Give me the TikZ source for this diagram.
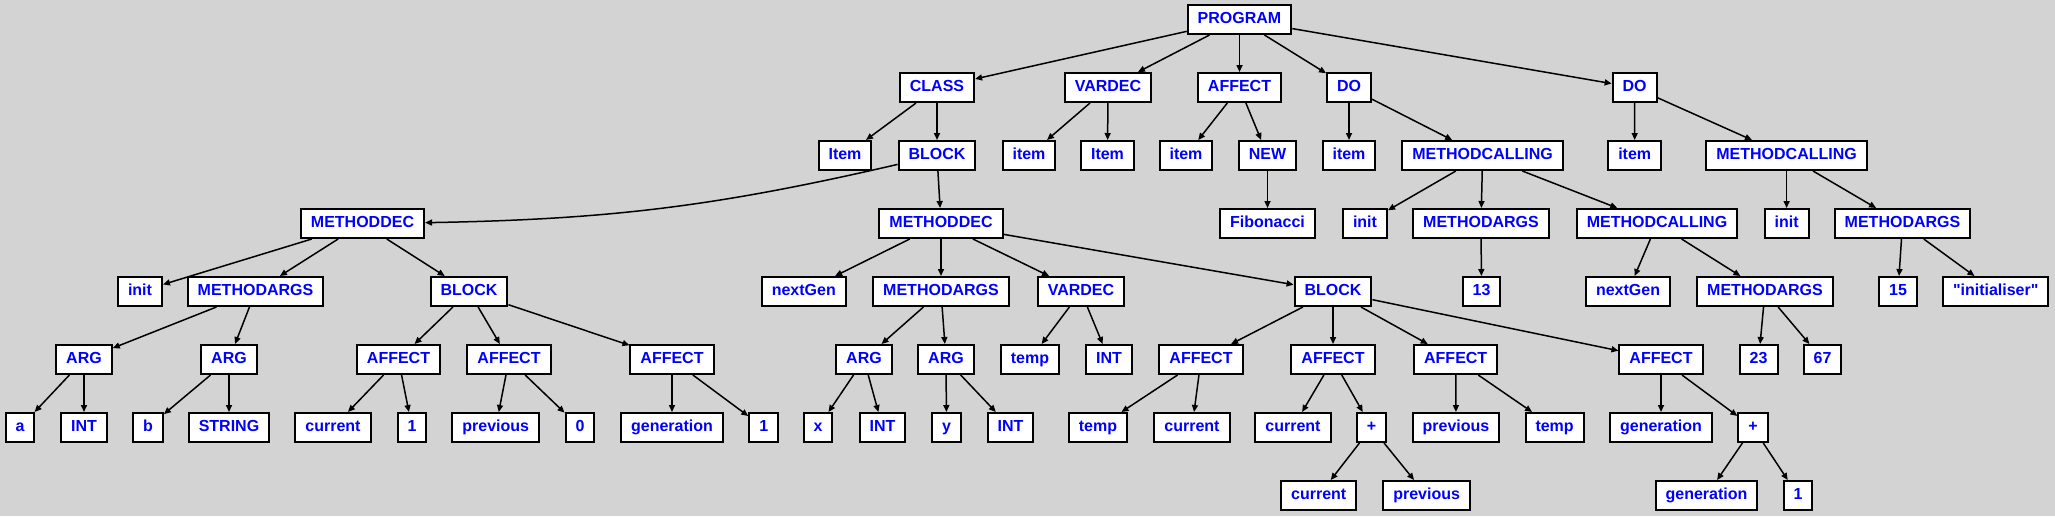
\documentclass[tikz,border=0pt]{standalone}
\usepackage{fontspec}
\setmainfont{Liberation Sans}[Ligatures=TeXOff]
\usetikzlibrary{arrows.meta}
\definecolor{bggray}{HTML}{D3D3D3}

\begin{document}
\begin{tikzpicture}[x=0.5pt, y=-0.5pt, >={Triangle[length=3.5pt,width=3pt]},
	ast/.style={draw, line width=1pt, fill=white, text=blue,
		font=\bfseries\fontsize{8}{9}\selectfont, minimum height=14.5pt,
		inner xsep=5pt, inner ysep=0pt, text height=5.9pt, text depth=1.7pt},
	edge/.style={->, line width=0.75pt}]
		
		% background
		\fill[bggray] (0,0) rectangle (2055,516);
		
		% root and first level
		\node[ast] (prog) at (1239.5,19.5) {PROGRAM};
		\node[ast] (cls) at (937,87.5) {CLASS};
		\node[ast] (vd) at (1108,87.5) {VARDEC};
		\node[ast] (aff) at (1239.5,87.5) {AFFECT};
		\node[ast] (doA) at (1349,87.5) {DO};
		\node[ast] (doB) at (1634.6,87.5) {DO};
		
		% class
		\node[ast] (clsItem) at (845,155.5) {Item};
		\node[ast] (clsBlock) at (937,155.5) {BLOCK};
		\node[ast] (mdA) at (362.5,223.5) {METHODDEC};
		\node[ast] (mdB) at (941,223.5) {METHODDEC};
		
		% first method
		\node[ast] (mdAinit) at (140,291.5) {init};
		\node[ast] (mdAargs) at (255.5,291.5) {METHODARGS};
		\node[ast] (blkA) at (469,291.5) {BLOCK};
		\node[ast] (argA) at (84,359.5) {ARG};
		\node[ast] (argB) at (229,359.5) {ARG};
		\node[ast] (affA1) at (398.5,359.5) {AFFECT};
		\node[ast] (affA2) at (509,359.5) {AFFECT};
		\node[ast] (affA3) at (672,359.5) {AFFECT};
		\node[ast] (argAa) at (20,427.5) {a};
		\node[ast] (argAint) at (84,427.5) {INT};
		\node[ast] (argBb) at (148,427.5) {b};
		\node[ast] (argBstr) at (229,427.5) {STRING};
		\node[ast] (affA1cur) at (333,427.5) {current};
		\node[ast] (affA1one) at (412,427.5) {1};
		\node[ast] (affA2prev) at (495.7,427.5) {previous};
		\node[ast] (affA2zero) at (580,427.5) {0};
		\node[ast] (affA3gen) at (672,427.5) {generation};
		\node[ast] (affA3one) at (763.7,427.5) {1};
		
		% second method
		\node[ast] (mdBnext) at (803.8,291.5) {nextGen};
		\node[ast] (mdBargs) at (941,291.5) {METHODARGS};
		\node[ast] (vdB) at (1081,291.5) {VARDEC};
		\node[ast] (blkB) at (1333,291.5) {BLOCK};
		\node[ast] (argX) at (864,359.5) {ARG};
		\node[ast] (argY) at (946,359.5) {ARG};
		\node[ast] (vdBtemp) at (1030,359.5) {temp};
		\node[ast] (vdBint) at (1109,359.5) {INT};
		\node[ast] (affB1) at (1201,359.5) {AFFECT};
		\node[ast] (affB2) at (1333,359.5) {AFFECT};
		\node[ast] (affB3) at (1455.7,359.5) {AFFECT};
		\node[ast] (affB4) at (1661,359.5) {AFFECT};
		\node[ast] (argXx) at (818,427.5) {x};
		\node[ast] (argXint) at (882.6,427.5) {INT};
		\node[ast] (argYy) at (946.5,427.5) {y};
		\node[ast] (argYint) at (1010.5,427.5) {INT};
		\node[ast] (affB1temp) at (1098,427.5) {temp};
		\node[ast] (affB1cur) at (1192,427.5) {current};
		\node[ast] (affB2cur) at (1293,427.5) {current};
		\node[ast] (plusB2) at (1371.5,427.5) {+};
		\node[ast] (affB3prev) at (1456,427.5) {previous};
		\node[ast] (affB3temp) at (1554.6,427.5) {temp};
		\node[ast] (affB4gen) at (1661,427.5) {generation};
		\node[ast] (plusB4) at (1753,427.5) {+};
		\node[ast] (plusB2cur) at (1318.7,495.5) {current};
		\node[ast] (plusB2prev) at (1426.6,495.5) {previous};
		\node[ast] (plusB4gen) at (1706.5,495.5) {generation};
		\node[ast] (plusB4one) at (1798,495.5) {1};
		
		% vardec and affect
		\node[ast] (vdItem) at (1029,155.5) {item};
		\node[ast] (vdType) at (1107.5,155.5) {Item};
		\node[ast] (affItem) at (1186,155.5) {item};
		\node[ast] (affNew) at (1267.5,155.5) {NEW};
		\node[ast] (affFib) at (1267.5,223.5) {Fibonacci};
		
		% first do
		\node[ast] (doAitem) at (1349,155.5) {item};
		\node[ast] (mcA) at (1482.6,155.5) {METHODCALLING};
		\node[ast] (mcAinit) at (1365,223.5) {init};
		\node[ast] (mcAargs) at (1481,223.5) {METHODARGS};
		\node[ast] (mcB) at (1657,223.5) {METHODCALLING};
		\node[ast] (mcAnum) at (1481.5,291.5) {13};
		\node[ast] (mcBnext) at (1628,291.5) {nextGen};
		\node[ast] (mcBargs) at (1765,291.5) {METHODARGS};
		\node[ast] (mcBnumA) at (1758.6,359.5) {23};
		\node[ast] (mcBnumB) at (1822.5,359.5) {67};
		
		% second do
		\node[ast] (doBitem) at (1634.7,155.5) {item};
		\node[ast] (mcC) at (1786.6,155.5) {METHODCALLING};
		\node[ast] (mcCinit) at (1786.6,223.5) {init};
		\node[ast] (mcCargs) at (1902.5,223.5) {METHODARGS};
		\node[ast] (mcCnum) at (1898,291.5) {15};
		\node[ast] (mcCstr) at (1995.7,291.5) {"initialiser"};
		
		% edges from the root
		\draw[edge] (prog) -- (cls);
		\draw[edge] (prog) -- (vd);
		\draw[edge] (prog) -- (aff);
		\draw[edge] (prog) -- (doA);
		\draw[edge] (prog) -- (doB);
		
		% edges in the class
		\draw[edge] (cls) -- (clsItem);
		\draw[edge] (cls) -- (clsBlock);
		\draw[edge] (clsBlock) to[bend left=6] (mdA);
		\draw[edge] (clsBlock) -- (mdB);
		
		% edges in the first method
		\draw[edge] (mdA) -- (mdAinit);
		\draw[edge] (mdA) -- (mdAargs);
		\draw[edge] (mdA) -- (blkA);
		\draw[edge] (mdAargs) -- (argA);
		\draw[edge] (mdAargs) -- (argB);
		\draw[edge] (argA) -- (argAa);
		\draw[edge] (argA) -- (argAint);
		\draw[edge] (argB) -- (argBb);
		\draw[edge] (argB) -- (argBstr);
		\draw[edge] (blkA) -- (affA1);
		\draw[edge] (blkA) -- (affA2);
		\draw[edge] (blkA) -- (affA3);
		\draw[edge] (affA1) -- (affA1cur);
		\draw[edge] (affA1) -- (affA1one);
		\draw[edge] (affA2) -- (affA2prev);
		\draw[edge] (affA2) -- (affA2zero);
		\draw[edge] (affA3) -- (affA3gen);
		\draw[edge] (affA3) -- (affA3one);
		
		% edges in the second method
		\draw[edge] (mdB) -- (mdBnext);
		\draw[edge] (mdB) -- (mdBargs);
		\draw[edge] (mdB) -- (vdB);
		\draw[edge] (mdB) -- (blkB);
		\draw[edge] (mdBargs) -- (argX);
		\draw[edge] (mdBargs) -- (argY);
		\draw[edge] (argX) -- (argXx);
		\draw[edge] (argX) -- (argXint);
		\draw[edge] (argY) -- (argYy);
		\draw[edge] (argY) -- (argYint);
		\draw[edge] (vdB) -- (vdBtemp);
		\draw[edge] (vdB) -- (vdBint);
		\draw[edge] (blkB) -- (affB1);
		\draw[edge] (blkB) -- (affB2);
		\draw[edge] (blkB) -- (affB3);
		\draw[edge] (blkB) -- (affB4);
		\draw[edge] (affB1) -- (affB1temp);
		\draw[edge] (affB1) -- (affB1cur);
		\draw[edge] (affB2) -- (affB2cur);
		\draw[edge] (affB2) -- (plusB2);
		\draw[edge] (plusB2) -- (plusB2cur);
		\draw[edge] (plusB2) -- (plusB2prev);
		\draw[edge] (affB3) -- (affB3prev);
		\draw[edge] (affB3) -- (affB3temp);
		\draw[edge] (affB4) -- (affB4gen);
		\draw[edge] (affB4) -- (plusB4);
		\draw[edge] (plusB4) -- (plusB4gen);
		\draw[edge] (plusB4) -- (plusB4one);
		
		% edges in vardec and affect
		\draw[edge] (vd) -- (vdItem);
		\draw[edge] (vd) -- (vdType);
		\draw[edge] (aff) -- (affItem);
		\draw[edge] (aff) -- (affNew);
		\draw[edge] (affNew) -- (affFib);
		
		% edges in the do nodes
		\draw[edge] (doA) -- (doAitem);
		\draw[edge] (doA) -- (mcA);
		\draw[edge] (mcA) -- (mcAinit);
		\draw[edge] (mcA) -- (mcAargs);
		\draw[edge] (mcA) -- (mcB);
		\draw[edge] (mcAargs) -- (mcAnum);
		\draw[edge] (mcB) -- (mcBnext);
		\draw[edge] (mcB) -- (mcBargs);
		\draw[edge] (mcBargs) -- (mcBnumA);
		\draw[edge] (mcBargs) -- (mcBnumB);
		\draw[edge] (doB) -- (doBitem);
		\draw[edge] (doB) -- (mcC);
		\draw[edge] (mcC) -- (mcCinit);
		\draw[edge] (mcC) -- (mcCargs);
		\draw[edge] (mcCargs) -- (mcCnum);
		\draw[edge] (mcCargs) -- (mcCstr);
		
	\end{tikzpicture}
\end{document}
